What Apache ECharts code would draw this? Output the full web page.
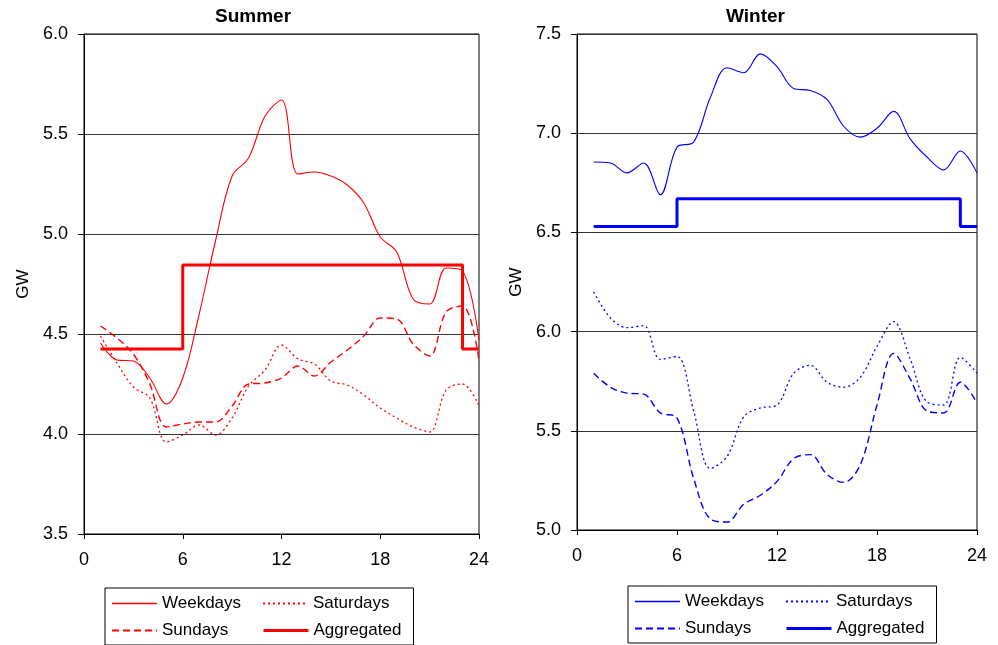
<!DOCTYPE html>
<html>
<head>
<meta charset="utf-8">
<script src="https://cdn.jsdelivr.net/npm/echarts@6/dist/echarts.min.js"></script>
<style>
html,body{margin:0;padding:0;background:#fff;}
#left{position:absolute;left:0;top:0;width:500px;height:645px;}
#right{position:absolute;left:500px;top:0;width:498px;height:645px;}
</style>
</head>
<body>
<div id="left"></div>
<div id="right"></div>
<script>
// ---- data ----
const hours = [1,2,3,4,5,6,7,8,9,10,11,12,13,14,15,16,17,18,19,20,21,22,23,24];
const xTicks = [0, 6, 12, 18, 24];
const seriesNames = ['Weekdays', 'Saturdays', 'Sundays', 'Aggregated'];

const summerWeekdays   = [4.455,4.37,4.365,4.28,4.15,4.28,4.60,4.97,5.29,5.38,5.59,5.67,5.30,5.31,5.29,5.245,5.155,4.985,4.91,4.675,4.65,4.83,4.815,4.47];
const summerSaturdays  = [4.49,4.355,4.235,4.18,3.96,3.995,4.045,3.995,4.08,4.24,4.32,4.445,4.375,4.35,4.265,4.245,4.195,4.13,4.08,4.035,4.01,4.22,4.25,4.14];
const summerSundays    = [4.54,4.48,4.40,4.25,4.035,4.05,4.06,4.06,4.14,4.25,4.255,4.28,4.34,4.29,4.36,4.42,4.49,4.58,4.575,4.45,4.39,4.61,4.64,4.37];
const summerAggregated = [4.425,4.425,4.425,4.425,4.425,4.845,4.845,4.845,4.845,4.845,4.845,4.845,4.845,4.845,4.845,4.845,4.845,4.845,4.845,4.845,4.845,4.845,4.425,4.425];

const winterWeekdays   = [6.855,6.85,6.80,6.85,6.69,6.93,6.955,7.18,7.33,7.305,7.40,7.335,7.225,7.215,7.17,7.035,6.98,7.025,7.11,6.97,6.88,6.815,6.91,6.80];
const winterSaturdays  = [6.20,6.07,6.02,6.03,5.86,5.875,5.60,5.31,5.37,5.57,5.615,5.63,5.79,5.83,5.745,5.72,5.77,5.925,6.05,5.86,5.645,5.63,5.87,5.79];
const winterSundays    = [5.79,5.72,5.69,5.685,5.59,5.565,5.26,5.055,5.04,5.13,5.175,5.245,5.36,5.38,5.28,5.24,5.33,5.63,5.89,5.76,5.60,5.59,5.745,5.64];
const winterAggregated = [6.53,6.53,6.53,6.53,6.53,6.67,6.67,6.67,6.67,6.67,6.67,6.67,6.67,6.67,6.67,6.67,6.67,6.67,6.67,6.67,6.67,6.67,6.53,6.53];

// ---- build ----
const FONT = 'Liberation Sans, Arial, sans-serif';
function pairs(vals){ return hours.map((h,i)=>[h, vals[i]]); }

function makeOption(cfg){
  const c = cfg.color;
  const lw = cfg.lw;
  return {
    animation: false,
    title: {
      text: cfg.title, left: cfg.titleLeft, top: 7, padding: 0,
      textStyle: {fontFamily: FONT, fontSize: 19, fontWeight: 'bold', color: '#000'}
    },
    grid: {
      left: cfg.gridLeft, right: cfg.gridRight, top: 34, bottom: cfg.gridBottom,
      show: true, borderColor: '#000', borderWidth: 1, backgroundColor: 'transparent'
    },
    legend: {
      left: cfg.legendLeft, top: cfg.legendTop, width: 296,
      orient: 'horizontal',
      borderColor: '#000', borderWidth: 1,
      padding: [6, 8, 5, 6],
      itemWidth: 45, itemHeight: 14, itemGap: 8,
      itemStyle: {opacity: 0, borderWidth: 0},
      textStyle: {fontFamily: FONT, fontSize: 17, color: '#000', width: 92, lineHeight: 19},
      data: seriesNames.map((n,i)=>({name: n, lineStyle: {width: [1.6, 2, 2, 3][i]}}))
    },
    xAxis: {
      type: 'value', min: xTicks[0], max: xTicks[xTicks.length-1], interval: 6,
      axisLine: {show: true, lineStyle: {color: '#000', width: 1}},
      axisTick: {show: true, inside: false, length: 5, lineStyle: {color: '#000'}},
      axisLabel: {fontFamily: FONT, fontSize: 18, color: '#000', margin: 17},
      splitLine: {show: false}
    },
    yAxis: {
      type: 'value', min: cfg.yMin, max: cfg.yMax, interval: 0.5,
      name: 'GW', nameLocation: 'middle', nameRotate: 90, nameGap: cfg.nameGap,
      nameTextStyle: {fontFamily: FONT, fontSize: 17, color: '#000'},
      axisLine: {show: true, lineStyle: {color: '#000', width: 1}},
      axisTick: {show: true, inside: false, length: 6, lineStyle: {color: '#000'}},
      axisLabel: {fontFamily: FONT, fontSize: 18, color: '#000', margin: 16,
                  formatter: v => v.toFixed(1)},
      splitLine: {show: true, lineStyle: {color: '#333', width: 1}}
    },
    series: [
      {name: 'Weekdays', type: 'line', data: pairs(cfg.data[0]), smooth: 0.35,
       symbol: 'none', lineStyle: {color: c, width: lw, type: 'solid'}, itemStyle: {color: c}},
      {name: 'Saturdays', type: 'line', data: pairs(cfg.data[1]), smooth: 0.35,
       symbol: 'none', lineStyle: {color: c, width: lw + 0.2, type: [2, 3]}, itemStyle: {color: c}},
      {name: 'Sundays', type: 'line', data: pairs(cfg.data[2]), smooth: 0.35,
       symbol: 'none', lineStyle: {color: c, width: lw + 0.3, type: [7, 4]}, itemStyle: {color: c}},
      {name: 'Aggregated', type: 'line', data: pairs(cfg.data[3]), step: 'end',
       symbol: 'none', lineStyle: {color: c, width: 3, type: 'solid'}, itemStyle: {color: c}}
    ]
  };
}

const left = echarts.init(document.getElementById('left'), null, {renderer: 'canvas'});
left.setOption(makeOption({
  title: 'Summer', titleLeft: 215, color: '#ff0000', lw: 1.1,
  gridLeft: 84, gridRight: 21, gridBottom: 111,
  legendLeft: 105, legendTop: 588,
  yMin: 3.5, yMax: 6.0, nameGap: 52,
  data: [summerWeekdays, summerSaturdays, summerSundays, summerAggregated]
}));

const right = echarts.init(document.getElementById('right'), null, {renderer: 'canvas'});
right.setOption(makeOption({
  title: 'Winter', titleLeft: 226, color: '#0000ff', lw: 1.1,
  gridLeft: 77, gridRight: 21, gridBottom: 115,
  legendLeft: 128, legendTop: 586,
  yMin: 5.0, yMax: 7.5, nameGap: 46,
  data: [winterWeekdays, winterSaturdays, winterSundays, winterAggregated]
}));
</script>
</body>
</html>
